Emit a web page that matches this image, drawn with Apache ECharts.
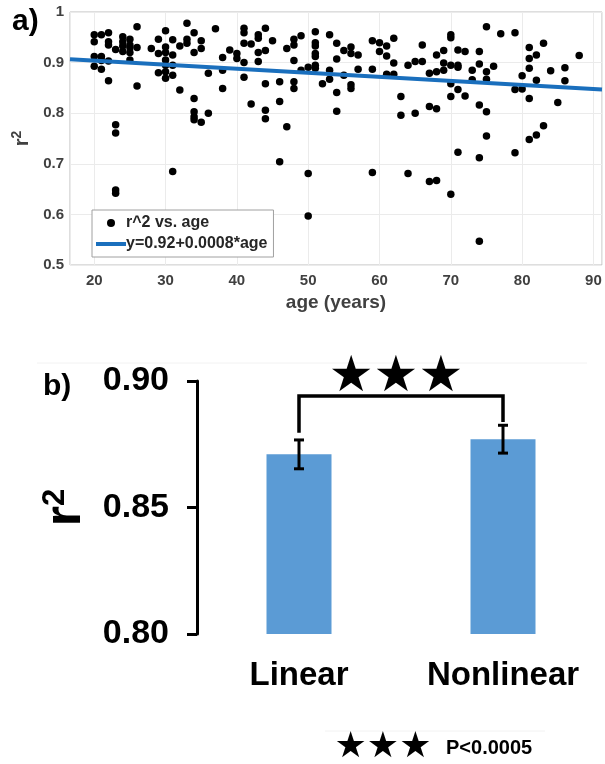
<!DOCTYPE html>
<html>
<head>
<meta charset="utf-8">
<script src="https://cdn.jsdelivr.net/npm/echarts@6/dist/echarts.min.js"></script>
<style>
  html, body { margin: 0; padding: 0; background: #fff; }
  #main { width: 605px; height: 764px; }
</style>
</head>
<body>
<div id="main"></div>
<script>
// ---- panel a: goodness of fit per subject vs. age ----
const subjectAge = [
  20, 20, 20, 20,
  21, 21, 21, 21,
  22, 22, 22, 22, 22,
  23, 23, 23, 23, 23,
  24, 24, 24, 24,
  25, 25, 25, 25, 25,
  26, 26, 26,
  28,
  29, 29, 29,
  30, 30, 30, 30, 30, 30, 30,
  31, 31, 31, 31, 31,
  32, 32,
  33, 33, 33,
  34, 34, 34, 34, 34, 34,
  35, 35, 35,
  36, 36,
  37,
  38, 38, 38,
  39,
  40, 40,
  41, 41, 41, 41, 41,
  42, 42,
  43, 43, 43, 43,
  44, 44, 44, 44, 44,
  45,
  46, 46, 46,
  47, 47,
  48, 48, 48, 48, 48,
  49, 49,
  50, 50, 50,
  51, 51, 51, 51, 51, 51, 51,
  52,
  53, 53, 53,
  54, 54, 54, 54,
  55, 55,
  56, 56, 56, 56,
  57, 57,
  59, 59, 59,
  60, 60,
  61, 61, 61,
  62, 62, 62,
  63, 63,
  64, 64,
  65, 65,
  66, 66,
  67, 67, 67,
  68, 68, 68, 68,
  69, 69, 69,
  70, 70, 70, 70, 70, 70,
  71, 71, 71, 71, 71,
  72, 72,
  73, 73,
  74, 74, 74, 74, 74,
  75, 75, 75, 75, 75,
  76,
  77,
  79, 79, 79,
  80, 80,
  81, 81, 81, 81, 81,
  82, 82, 82,
  83, 83,
  84,
  85,
  86, 86,
  88
];
const subjectR2 = [
  0.955, 0.941, 0.912, 0.893,
  0.955, 0.912, 0.904, 0.887,
  0.959, 0.941, 0.935, 0.903, 0.864,
  0.926, 0.777, 0.761, 0.648, 0.642,
  0.951, 0.941, 0.933, 0.922,
  0.946, 0.935, 0.930, 0.920, 0.905,
  0.971, 0.930, 0.854,
  0.928,
  0.946, 0.918, 0.880,
  0.963, 0.931, 0.920, 0.905, 0.895, 0.882, 0.869,
  0.945, 0.915, 0.895, 0.875, 0.685,
  0.933, 0.846,
  0.978, 0.946, 0.938,
  0.959, 0.920, 0.829, 0.803, 0.793, 0.787,
  0.943, 0.928, 0.782,
  0.879, 0.800,
  0.967,
  0.910, 0.885, 0.849,
  0.925,
  0.918, 0.908,
  0.968, 0.959, 0.938, 0.900, 0.871,
  0.937, 0.818,
  0.955, 0.948, 0.920, 0.902,
  0.968, 0.924, 0.858, 0.806, 0.789,
  0.943,
  0.862, 0.823, 0.704,
  0.928, 0.773,
  0.946, 0.935, 0.904, 0.862, 0.849,
  0.953, 0.885,
  0.891, 0.681, 0.597,
  0.961, 0.939, 0.933, 0.918, 0.912, 0.895, 0.889,
  0.858,
  0.955, 0.885, 0.867,
  0.938, 0.907, 0.841, 0.804,
  0.924, 0.875,
  0.931, 0.918, 0.856, 0.849,
  0.915, 0.887,
  0.943, 0.887, 0.683,
  0.939, 0.922,
  0.933, 0.913, 0.877,
  0.948, 0.899, 0.877,
  0.833, 0.796,
  0.895, 0.681,
  0.902, 0.800,
  0.935, 0.902,
  0.879, 0.813, 0.665,
  0.915, 0.882, 0.809, 0.667,
  0.924, 0.899, 0.885,
  0.955, 0.949, 0.895, 0.858, 0.833, 0.640,
  0.925, 0.895, 0.891, 0.847, 0.723,
  0.922, 0.834,
  0.885, 0.866,
  0.922, 0.897, 0.816, 0.712, 0.547,
  0.971, 0.882, 0.867, 0.803, 0.755,
  0.893,
  0.957,
  0.959, 0.847, 0.722,
  0.874, 0.848,
  0.930, 0.908, 0.889, 0.829, 0.748,
  0.915, 0.865, 0.757,
  0.938, 0.775,
  0.884,
  0.821,
  0.890, 0.864,
  0.914
];
// fitted trend: r^2 = intercept + slope * age
const fitIntercept = 0.92;
const fitSlope = -0.0008;
const ageRange = [16.6, 91.2];
const scatterName = 'r^2 vs. age';
const fitName = 'y=0.92+0.0008*age';

// ---- panel b: mean r^2 by model type ----
const modelNames = ['Linear', 'Nonlinear'];
const modelMeanR2 = [0.871, 0.877];
const modelSemR2 = [0.0057, 0.0055];
const bracketTop = 0.8941;
const bracketFeet = [0.8795, 0.8838];

const FONT = 'Liberation Sans, Arial, sans-serif';
const GREY = '#404040';

const chart = echarts.init(document.getElementById('main'));

const fitLine = ageRange.map(a => [a, fitIntercept + fitSlope * a]);

const option = {
  animation: false,
  backgroundColor: '#fff',
  textStyle: { fontFamily: FONT },
  grid: [
    { left: 70, top: 12, width: 535, height: 253, show: true, borderColor: '#bdbdbd', borderWidth: 1, backgroundColor: '#fff' },
    { left: 197, top: 381, width: 412, height: 253 }
  ],
  legend: {
    orient: 'vertical',
    left: 92, top: 210,
    backgroundColor: '#fff',
    borderColor: '#a0a0a0', borderWidth: 1, borderRadius: 0,
    padding: [5, 6, 5, 4],
    itemGap: 5,
    itemWidth: 30, itemHeight: 8,
    textStyle: { fontFamily: FONT, fontSize: 16, fontWeight: 'bold', color: '#262626', padding: [0, 0, 0, -5] },
    data: [
      { name: scatterName, icon: 'circle' },
      { name: fitName, icon: 'path://M0 0H30V4H0Z' }
    ]
  },
  xAxis: [
    {
      type: 'value', gridIndex: 0, min: ageRange[0], max: ageRange[1], splitNumber: 7,
      axisLine: { show: false }, axisTick: { show: false },
      splitLine: { show: true, lineStyle: { color: '#ebebeb', width: 1 } },
      axisLabel: {
        formatter: v => (Math.abs(v % 10) < 1e-6 ? String(v) : ''),
        color: GREY, fontSize: 15, fontWeight: 'bold', fontFamily: FONT, margin: 8
      },
      name: 'age (years)', nameLocation: 'middle', nameGap: 28,
      nameTextStyle: { color: GREY, fontSize: 19, fontWeight: 'bold', fontFamily: FONT }
    },
    {
      type: 'category', gridIndex: 1, data: modelNames,
      axisLine: { show: false }, axisTick: { show: false },
      axisLabel: { color: '#000', fontSize: 33, fontWeight: 'bold', fontFamily: FONT, margin: 25 }
    }
  ],
  yAxis: [
    {
      type: 'value', gridIndex: 0, min: 0.5, max: 1, interval: 0.1,
      axisLine: { show: false }, axisTick: { show: false },
      splitLine: { show: true, lineStyle: { color: '#ebebeb', width: 1 } },
      axisLabel: {
        formatter: v => String(+v.toFixed(1)),
        color: GREY, fontSize: 15, fontWeight: 'bold', fontFamily: FONT, margin: 6
      },
      name: '{r|r}{s|2}', nameLocation: 'middle', nameRotate: 90, nameGap: 27,
      nameTextStyle: {
        rich: {
          r: { fontSize: 20, fontWeight: 'bold', color: GREY, fontFamily: FONT, lineHeight: 22, verticalAlign: 'bottom' },
          s: { fontSize: 14, fontWeight: 'bold', color: GREY, fontFamily: FONT, verticalAlign: 'top', lineHeight: 22 }
        }
      }
    },
    {
      type: 'value', gridIndex: 1, min: 0.8, max: 0.9, interval: 0.05,
      axisLine: { show: true, lineStyle: { color: '#000', width: 3 } },
      axisTick: { show: true, inside: false, length: 10, lineStyle: { color: '#000', width: 3 } },
      splitLine: { show: false },
      axisLabel: {
        formatter: v => v.toFixed(2),
        color: '#000', fontSize: 34, fontWeight: 'bold', fontFamily: FONT, margin: 28
      },
      name: '{r|r}{s|2}', nameLocation: 'middle', nameRotate: 90, nameGap: 103,
      nameTextStyle: {
        rich: {
          r: { fontSize: 52, fontWeight: 'bold', color: '#000', fontFamily: FONT, lineHeight: 52, verticalAlign: 'bottom' },
          s: { fontSize: 31, fontWeight: 'bold', color: '#000', fontFamily: FONT, verticalAlign: 'top', lineHeight: 52 }
        }
      }
    }
  ],
  series: [
    {
      name: scatterName, type: 'scatter', xAxisIndex: 0, yAxisIndex: 0,
      symbol: 'circle', symbolSize: 7.5,
      itemStyle: { color: '#000', opacity: 1 },
      data: subjectAge.map((a, i) => [a, subjectR2[i]])
    },
    {
      name: fitName, type: 'line', xAxisIndex: 0, yAxisIndex: 0,
      symbol: 'none', clip: true,
      lineStyle: { color: '#1a6fbd', width: 4 },
      itemStyle: { color: '#1a6fbd' },
      data: fitLine, z: 3
    },
    {
      name: 'mean', type: 'bar', xAxisIndex: 1, yAxisIndex: 1,
      barWidth: 65,
      itemStyle: { color: '#5b9bd5' },
      data: modelMeanR2
    },
    {
      name: 'sem', type: 'custom', xAxisIndex: 1, yAxisIndex: 1,
      encode: { x: 0, y: [1, 2] },
      data: modelNames.map((m, i) => [i, modelMeanR2[i] - modelSemR2[i], modelMeanR2[i] + modelSemR2[i]]),
      z: 4,
      renderItem(params, api) {
        const i = api.value(0);
        const lo = api.coord([i, api.value(1)]);
        const hi = api.coord([i, api.value(2)]);
        const w = 5;
        const st = { stroke: '#000', lineWidth: 3 };
        return {
          type: 'group',
          children: [
            { type: 'line', shape: { x1: lo[0], y1: lo[1], x2: hi[0], y2: hi[1] }, style: st },
            { type: 'line', shape: { x1: lo[0] - w, y1: lo[1], x2: lo[0] + w, y2: lo[1] }, style: st },
            { type: 'line', shape: { x1: hi[0] - w, y1: hi[1], x2: hi[0] + w, y2: hi[1] }, style: st }
          ]
        };
      }
    },
    {
      name: 'bracket', type: 'line', xAxisIndex: 1, yAxisIndex: 1,
      symbol: 'none', clip: false, z: 5,
      lineStyle: { color: '#000', width: 3.5, cap: 'butt', join: 'miter' },
      data: [
        [modelNames[0], bracketFeet[0]],
        [modelNames[0], bracketTop],
        [modelNames[1], bracketTop],
        [modelNames[1], bracketFeet[1]]
      ]
    }
  ],
  graphic: [
    { type: 'text', left: 12, top: 7, style: { text: 'a)', font: 'bold 30px ' + FONT, fill: '#000' } },
    { type: 'text', left: 43, top: 372, style: { text: 'b)', font: 'bold 30px ' + FONT, fill: '#000' } },
    { type: 'line', shape: { x1: 37, y1: 363, x2: 587, y2: 363 }, style: { stroke: '#f2f2f2', lineWidth: 1 } },
    { type: 'line', shape: { x1: 325, y1: 731, x2: 545, y2: 731 }, style: { stroke: '#f2f2f2', lineWidth: 1 } },
    {
      type: 'text', x: 396, y: 378,
      style: { text: '★★★', font: '50px DejaVu Sans', fill: '#000', align: 'center', verticalAlign: 'middle' }
    },
    {
      type: 'text', x: 383, y: 748,
      style: { text: '★★★', font: '36px DejaVu Sans', fill: '#000', align: 'center', verticalAlign: 'middle' }
    },
    {
      type: 'text', x: 446, y: 748,
      style: { text: 'P<0.0005', font: 'bold 20px ' + FONT, fill: '#000', align: 'left', verticalAlign: 'middle' }
    }
  ]
};

chart.setOption(option);
</script>
</body>
</html>
